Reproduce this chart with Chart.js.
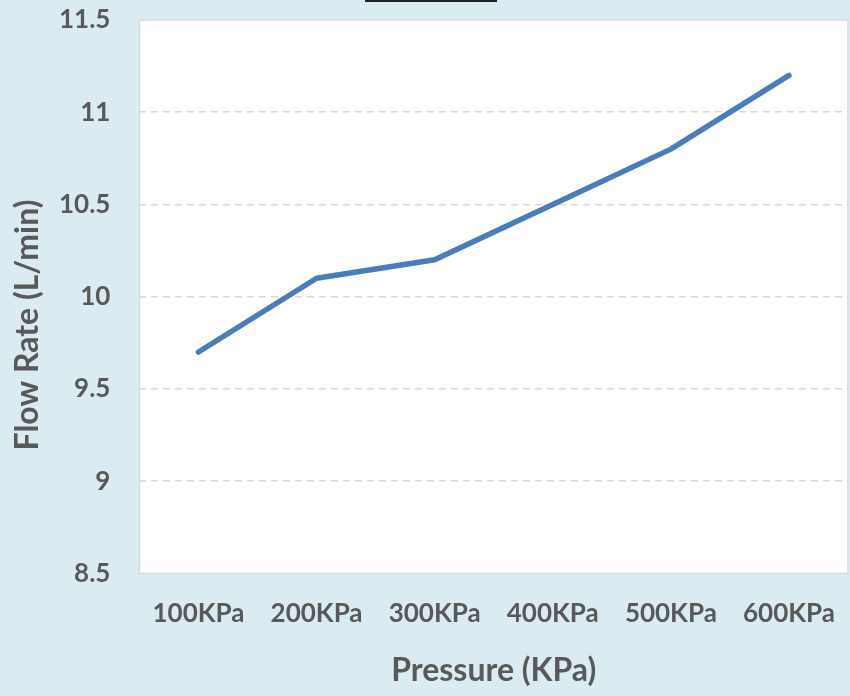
<!DOCTYPE html>
<html>
<head>
<meta charset="utf-8">
<script src="https://cdn.jsdelivr.net/npm/chart.js@4/dist/chart.umd.min.js"></script>
<style>
  html, body { margin: 0; padding: 0; background: #daebf2; }
  #wrap { width: 850px; height: 696px; position: relative; }
</style>
</head>
<body>
<div id="wrap"><canvas id="c" width="850" height="696"></canvas></div>
<script>
const categories = ["100KPa", "200KPa", "300KPa", "400KPa", "500KPa", "600KPa"];
const flowRate = [9.7, 10.1, 10.2, 10.5, 10.8, 11.2];
const yTicks = [8.5, 9, 9.5, 10, 10.5, 11, 11.5];
const xTitle = "Pressure (KPa)";
const yTitle = "Flow Rate (L/min)";

const textColor = "#595959";
const fontFamily = "Lato, 'Open Sans', sans-serif";

const areaPlugin = {
  id: "areaPlugin",
  beforeDraw(chart) {
    const { ctx, chartArea: a } = chart;
    ctx.save();
    ctx.fillStyle = "#daebf2";
    ctx.fillRect(0, 0, chart.width, chart.height);
    ctx.fillStyle = "#222222";
    ctx.fillRect(365, 0, 132, 2);
    ctx.fillStyle = "#ffffff";
    ctx.fillRect(a.left, a.top, a.right - a.left, a.bottom - a.top);
    ctx.restore();
  },
  beforeDatasetsDraw(chart) {
    const { ctx, chartArea: a } = chart;
    ctx.save();
    ctx.strokeStyle = "#d9d9d9";
    ctx.lineWidth = 1.5;
    ctx.strokeRect(a.left, a.top, a.right - a.left, a.bottom - a.top);
    ctx.restore();
  },
  afterDraw(chart) {
    const { ctx } = chart;
    ctx.save();
    ctx.translate(28, 325);
    ctx.rotate(-Math.PI / 2);
    ctx.fillStyle = textColor;
    ctx.font = "bold 32px " + fontFamily;
    ctx.textAlign = "center";
    ctx.textBaseline = "middle";
    ctx.fillText(yTitle, 0, 0);
    ctx.restore();
  }
};

new Chart(document.getElementById("c"), {
  type: "line",
  data: {
    labels: categories,
    datasets: [{
      data: flowRate,
      borderColor: "#4a7ebb",
      borderWidth: 5.5,
      pointRadius: 0,
      borderCapStyle: "round",
      borderJoinStyle: "round",
      tension: 0,
      fill: false
    }]
  },
  options: {
    responsive: false,
    animation: false,
    layout: { padding: { top: 20, right: 2, left: 30, bottom: 0 } },
    plugins: { legend: { display: false }, tooltip: { enabled: false } },
    scales: {
      x: {
        offset: true,
        afterFit(scale) { scale.paddingLeft = 0; scale.paddingRight = 0; },
        grid: { display: false },
        border: { display: false },
        ticks: { color: textColor, font: { family: fontFamily, size: 26, weight: "bold" }, padding: 17, maxRotation: 0 },
        title: { display: true, text: xTitle, color: textColor, font: { family: fontFamily, size: 32, weight: "bold" }, padding: { top: 5, bottom: 6 } }
      },
      y: {
        min: 8.5,
        max: 11.5,
        afterBuildTicks(scale) { scale.ticks = yTicks.map(v => ({ value: v })); },
        afterFit(scale) { scale.paddingTop = 0; scale.paddingBottom = 0; },
        grid: {
          color: ctx => (ctx.tick && (ctx.tick.value === 8.5 || ctx.tick.value === 11.5)) ? "rgba(0,0,0,0)" : "#d9d9d9",
          lineWidth: 1.5,
          drawTicks: false
        },
        border: { display: false, dash: [7, 5] },
        ticks: {
          color: textColor,
          font: { family: fontFamily, size: 26, weight: "bold" },
          padding: 29,
          callback: v => String(v)
        }
      }
    }
  },
  plugins: [areaPlugin]
});
</script>
</body>
</html>
